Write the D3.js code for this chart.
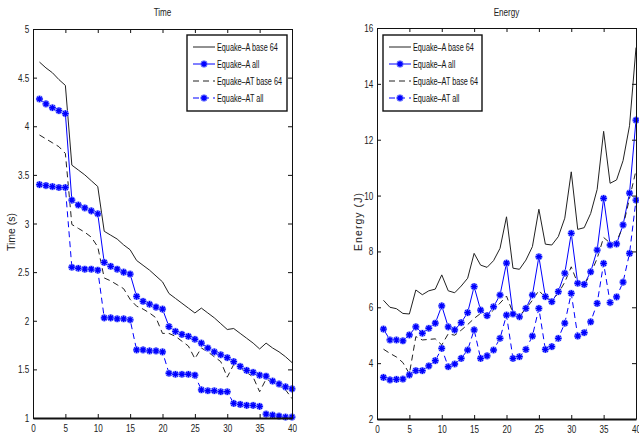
<!DOCTYPE html>
<html>
<head>
<meta charset="utf-8">
<title>Equake time and energy</title>
<script src="https://d3js.org/d3.v7.min.js"></script>
<style>
  body { margin: 0; background: #fff; }
  svg { display: block; }
  .tick text { font-family: "Liberation Sans", Arial, sans-serif; font-size: 11px; fill: #222; }
  .title { font-family: "Liberation Sans", Arial, sans-serif; font-size: 11px; fill: #222; }
  .ylabel { font-family: "Liberation Sans", Arial, sans-serif; font-size: 10.5px; fill: #222; }
  .legend text { font-family: "Liberation Sans", Arial, sans-serif; font-size: 11px; fill: #111; }
  .line { fill: none; }
</style>
</head>
<body>
<svg id="chart" width="639" height="440"></svg>
<script>
// x axis: configuration index
const configs = [1,2,3,4,5,6,7,8,9,10,11,12,13,14,15,16,17,18,19,20,
                 21,22,23,24,25,26,27,28,29,30,31,32,33,34,35,36,37,38,39,40];

const seriesNames = ["Equake\u2013A base 64", "Equake\u2013A all", "Equake\u2013AT base 64", "Equake\u2013AT all"];

// Time (s)
const timeABase = [4.66,4.60,4.55,4.48,4.42, 3.60,3.55,3.50,3.44,3.38,
                   2.92,2.88,2.84,2.78,2.73, 2.62,2.57,2.52,2.46,2.40,
                   2.28,2.23,2.18,2.13,2.08, 2.13,2.08,2.03,1.97,1.91,
                   1.92,1.87,1.82,1.77,1.71, 1.77,1.72,1.68,1.63,1.57];
const timeAAll = [4.28,4.23,4.19,4.16,4.13, 3.24,3.19,3.16,3.13,3.10,
                  2.60,2.56,2.53,2.50,2.48, 2.25,2.20,2.17,2.14,2.12,
                  1.94,1.89,1.86,1.84,1.81, 1.77,1.72,1.68,1.65,1.62,
                  1.58,1.53,1.49,1.47,1.44, 1.43,1.38,1.35,1.32,1.30];
const timeATBase = [3.91,3.87,3.83,3.79,3.72, 2.99,2.95,2.91,2.86,2.76,
                    2.44,2.41,2.37,2.33,2.22, 2.15,2.12,2.08,2.03,1.87,
                    1.87,1.84,1.79,1.74,1.61, 1.72,1.68,1.63,1.58,1.42,
                    1.55,1.51,1.47,1.42,1.27, 1.40,1.37,1.33,1.29,1.20];
const timeATAll = [3.40,3.39,3.38,3.37,3.37, 2.55,2.54,2.53,2.53,2.52,
                   2.03,2.03,2.02,2.02,2.01, 1.70,1.70,1.69,1.69,1.68,
                   1.46,1.45,1.45,1.45,1.44, 1.29,1.28,1.28,1.27,1.27,
                   1.15,1.14,1.13,1.13,1.12, 1.04,1.03,1.02,1.01,1.01];

// Energy (J)
const energyABase = [6.25,6.00,5.95,5.78,5.76, 6.62,6.45,6.59,6.65,7.16,
                     6.59,6.52,6.76,7.04,7.93, 7.51,7.43,7.67,8.11,9.24,
                     7.40,7.36,7.69,8.17,9.51, 8.26,8.23,8.53,9.19,10.85,
                     8.79,8.85,9.36,10.22,12.30, 10.44,10.56,11.25,12.50,15.30];
const energyAAll = [5.22,4.83,4.83,4.80,5.01, 5.30,5.07,5.25,5.43,6.05,
                    5.30,5.19,5.45,5.81,6.74, 5.90,5.70,6.02,6.44,7.58,
                    5.76,5.66,5.96,6.44,7.81, 6.38,6.20,6.56,7.22,8.65,
                    6.86,6.82,7.27,8.05,9.90, 8.23,8.27,8.95,10.09,12.70];
const energyATBase = [4.50,4.35,4.22,4.02,3.62, 4.95,4.83,4.85,4.87,4.65,
                      5.05,5.00,5.18,5.38,5.60, 5.78,5.70,5.90,6.15,6.40,
                      5.80,5.70,5.95,6.25,6.60, 6.35,6.25,6.50,6.90,7.45,
                      6.85,6.80,7.20,7.75,8.50, 8.30,8.35,8.90,9.90,10.90];
const energyATAll = [3.49,3.40,3.42,3.43,3.58, 3.73,3.73,3.90,4.09,4.53,
                     3.87,3.97,4.17,4.47,5.19, 4.17,4.26,4.47,4.89,5.72,
                     4.17,4.23,4.49,4.97,5.96, 4.49,4.59,4.89,5.43,6.50,
                     4.97,5.09,5.48,6.14,7.57, 6.17,6.37,6.90,7.93,9.84];

const xTicks = [0,5,10,15,20,25,30,35,40];
const timeTicks = [1,1.5,2,2.5,3,3.5,4,4.5,5];
const energyTicks = [2,4,6,8,10,12,14,16];

const styles = [
  { color: "#222", dash: null, marker: false },
  { color: "#0000ff", dash: null, marker: true },
  { color: "#222", dash: "6,4", marker: false },
  { color: "#0000ff", dash: "6,4", marker: true }
];

// matlab figure text is narrow, squeeze horizontally
const squeeze = 0.74;
const legendSqueeze = 0.66;

const svg = d3.select("#chart");

function star(r) {
  const d = r * 0.72;
  return "M" + (-r) + ",0H" + r + "M0," + (-r) + "V" + r +
         "M" + (-d) + "," + (-d) + "L" + d + "," + d +
         "M" + (-d) + "," + d + "L" + d + "," + (-d);
}

function drawMarker(g, x, y) {
  g.append("path").attr("d", star(3.6)).attr("transform", "translate(" + x + "," + y + ")")
    .attr("fill", "none").attr("stroke", "#9aa6ff").attr("stroke-width", 2.6);
  g.append("path").attr("d", star(3.3)).attr("transform", "translate(" + x + "," + y + ")")
    .attr("fill", "none").attr("stroke", "#0000ff").attr("stroke-width", 1.3);
}

function drawPanel(p) {
  const x = d3.scaleLinear().domain([0, 40]).range([p.left, p.right]);
  const y = d3.scaleLinear().domain(p.domain).range([p.bottom, p.top]);

  const g = svg.append("g");

  // series
  const line = d3.line().x((d, i) => x(configs[i])).y(d => y(d));
  p.series.forEach(function(vals, k) {
    const s = styles[k];
    g.append("path")
      .attr("class", "line")
      .attr("d", line(vals))
      .attr("stroke", s.color)
      .attr("stroke-width", 1)
      .attr("stroke-dasharray", s.dash);
  });
  p.series.forEach(function(vals, k) {
    if (!styles[k].marker) return;
    vals.forEach(function(v, i) { drawMarker(g, x(configs[i]), y(v)); });
  });

  // axes (ticks pointing inward, matlab style)
  const fmt = d3.format("~g");
  const bottom = g.append("g").attr("transform", "translate(0," + p.bottom + ")")
    .call(d3.axisBottom(x).tickValues(xTicks).tickSize(-4).tickSizeOuter(0).tickPadding(6).tickFormat(fmt));
  g.append("g").attr("transform", "translate(0," + p.top + ")")
    .call(d3.axisTop(x).tickValues(xTicks).tickSize(-4).tickSizeOuter(0).tickFormat(""));
  g.append("g").attr("transform", "translate(" + p.left + ",0)")
    .call(d3.axisLeft(y).tickValues(p.ticks).tickSize(-4).tickSizeOuter(0).tickPadding(5).tickFormat(fmt));
  g.append("g").attr("transform", "translate(" + p.right + ",0)")
    .call(d3.axisRight(y).tickValues(p.ticks).tickSize(-4).tickSizeOuter(0).tickFormat(""));
  g.selectAll(".domain").attr("stroke", "#111");
  g.selectAll(".tick line").attr("stroke", "#111");
  g.selectAll(".tick text").attr("transform", "scale(" + squeeze + ",1)");
  bottom.select(".domain").attr("stroke-width", 2);

  g.append("text").attr("class", "title")
    .attr("transform", "translate(" + (p.left + p.right) / 2 + ",16) scale(" + squeeze + ",1)")
    .attr("text-anchor", "middle").text(p.title);

  g.append("text").attr("class", "ylabel")
    .attr("transform", "translate(" + p.ylabelX + "," + p.ylabelY + ") rotate(-90)")
    .attr("text-anchor", "middle")
    .attr("textLength", p.ylabelLen).attr("lengthAdjust", "spacing")
    .text(p.ylabel);

  // legend
  const lg = g.append("g").attr("class", "legend");
  lg.append("rect")
    .attr("x", p.legend.x).attr("y", p.legend.y)
    .attr("width", p.legend.w).attr("height", p.legend.h)
    .attr("fill", "#fff").attr("stroke", "#111").attr("stroke-width", 1.4);
  seriesNames.forEach(function(name, k) {
    const s = styles[k];
    const ly = p.legend.y + 12 + k * 17;
    const lx0 = p.legend.x + 6, lx1 = p.legend.x + 28;
    lg.append("line").attr("x1", lx0).attr("x2", lx1).attr("y1", ly).attr("y2", ly)
      .attr("stroke", s.color).attr("stroke-width", 1).attr("stroke-dasharray", s.dash);
    if (s.marker) drawMarker(lg, (lx0 + lx1) / 2, ly);
    lg.append("text")
      .attr("transform", "translate(" + (lx1 + 2) + "," + (ly + 4) + ") scale(" + legendSqueeze + ",1)")
      .text(name);
  });
}

drawPanel({
  left: 33, right: 292, top: 29, bottom: 418,
  domain: [1, 5], ticks: timeTicks,
  title: "Time", ylabel: "Time (s)", ylabelX: 15, ylabelY: 232, ylabelLen: 38,
  series: [timeABase, timeAAll, timeATBase, timeATAll],
  legend: { x: 187, y: 35, w: 100, h: 76 }
});

drawPanel({
  left: 377, right: 636, top: 28, bottom: 419,
  domain: [2, 16], ticks: energyTicks,
  title: "Energy", ylabel: "Energy (J)", ylabelX: 362, ylabelY: 222, ylabelLen: 58,
  series: [energyABase, energyAAll, energyATBase, energyATAll],
  legend: { x: 383, y: 35, w: 99, h: 76 }
});
</script>
</body>
</html>
